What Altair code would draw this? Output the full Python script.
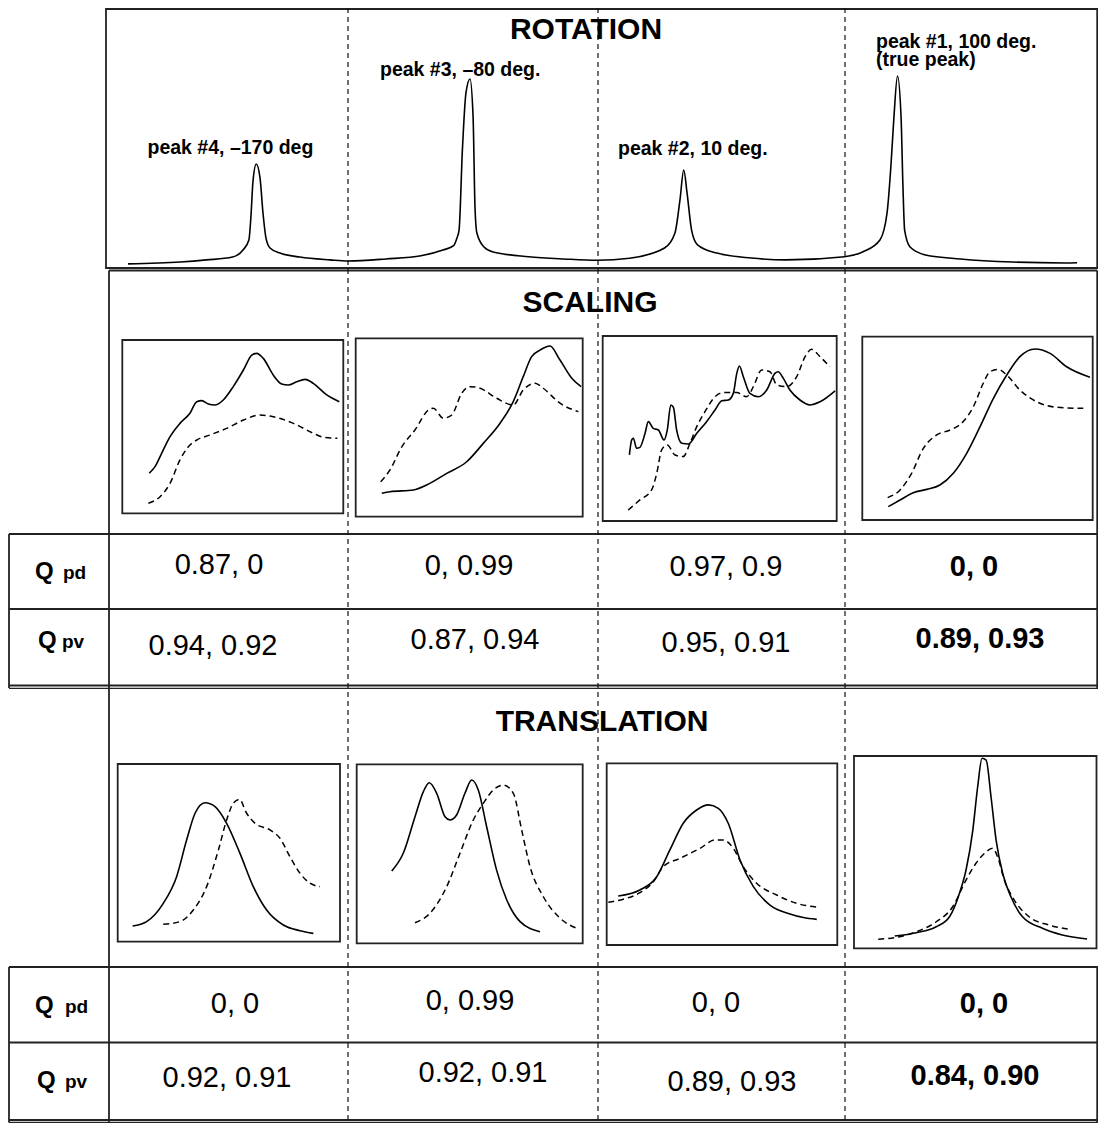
import altair as alt
import pandas as pd

# ---------------- data ----------------
# Rotation response (angle in degrees, normalised amplitude)
rot_angle = [-224, -202, -191, -180, -175.6, -173.1, -172.2, -171.4, -170, -168.4, -167.2, -165.9,
             -164.2, -160, -151.6, -139, -131.4, -115.4, -100.6, -91.4, -86.9, -85.5, -84.6, -83.2,
             -81.7, -80, -78.7, -77.9, -77.1, -74.1, -70.3, -55.3, -40.4, -26.3, -12.8, 1.9, 6.3, 8.4,
             10, 11.4, 13.3, 15.8, 23.9, 38.5, 53.1, 77.7, 85.5, 92.6, 95.6, 97.2, 98.5, 100, 101.5,
             102.3, 103, 105.3, 111.8, 126.5, 148.5, 170.5, 175.6]
rot_amp = [0.011, 0.021, 0.032, 0.047, 0.084, 0.137, 0.268, 0.442, 0.537, 0.463, 0.284, 0.147,
           0.095, 0.068, 0.047, 0.032, 0.026, 0.037, 0.054, 0.084, 0.107, 0.147, 0.189, 0.611,
           0.911, 0.984, 0.784, 0.311, 0.174, 0.100, 0.074, 0.049, 0.037, 0.030, 0.041, 0.095,
           0.174, 0.347, 0.505, 0.384, 0.189, 0.111, 0.068, 0.042, 0.032, 0.049, 0.075, 0.137,
           0.279, 0.521, 0.784, 1.0, 0.784, 0.416, 0.189, 0.100, 0.058, 0.037, 0.021, 0.016, 0.017]

# Small panels: (x %, y %) inside each panel
S1_solid = [(12.2,23.1),(14.8,26.9),(17.8,34.6),(21.6,44.2),(26.1,51.9),(30.6,57.7),(33.7,64.4),(35.9,65.0),
            (38.9,63.1),(41.9,62.5),(45.7,65.4),(50.2,73.1),(54.8,82.7),(58.6,91.3),(60.8,92.3),(63.8,89.4),
            (68.3,79.8),(72.1,74.6),(75.1,74.0),(78.9,75.9),(82.7,77.3),(86.4,75.0),(92.5,68.3),(98.2,64.4)]
S1_dashed = [(11.8,5.8),(17.1,9.6),(21.6,17.3),(26.1,30.8),(29.9,38.4),(33.7,42.3),(39.7,45.2),(47.2,49.0),
             (54.8,53.8),(62.3,56.7),(68.3,55.7),(77.4,51.9),(86.4,46.2),(91.0,43.9),(97.3,43.3)]
S2_solid = [(11.5,13.1),(15.1,14.0),(25.4,15.0),(31.3,17.8),(40.1,24.3),(48.9,30.8),(56.2,41.1),(63.6,52.4),
            (69.4,64.5),(73.8,78.5),(77.5,89.7),(81.2,93.4),(85.6,95.7),(90.0,87.8),(95.2,77.6),(99.3,72.9)]
S2_dashed = [(11.0,19.6),(15.1,26.2),(20.3,39.2),(26.1,48.6),(32.0,59.8),(34.2,60.8),(38.6,55.2),(42.3,57.0),
             (46.7,69.2),(50.4,72.9),(54.8,72.0),(62.1,66.4),(69.4,62.6),(73.8,71.0),(79.0,74.8),(82.6,72.0),
             (90.0,63.6),(98.1,58.9)]
S3_solid = [(11.4,35.7),(12.4,43.8),(13.1,44.7),(14.5,39.3),(15.9,39.8),(18.1,47.4),(19.5,53.7),(21.6,50.1),
            (23.8,49.2),(26.2,43.8),(27.6,49.2),(29.1,62.7),(30.2,61.5),(31.6,49.2),(33.8,42.0),(36.6,41.6),
            (40.2,47.4),(44.4,53.7),(48.0,60.0),(50.9,65.0),(53.7,65.4),(55.8,69.0),(57.3,79.8),(58.4,83.8),
            (60.1,78.0),(62.9,69.0),(66.5,67.2),(70.1,70.8),(73.6,79.8),(75.0,80.7),(77.2,77.1),(80.0,70.8),
            (84.3,65.4),(88.6,62.7),(92.9,64.5),(99.3,70.4)]
S3_dashed = [(10.9,5.9),(15.9,11.4),(20.9,16.8),(23.1,25.8),(25.2,38.4),(27.6,41.1),(30.9,35.7),(34.4,34.8),
             (37.3,42.0),(40.2,51.0),(43.7,59.1),(48.0,67.2),(51.5,69.4),(57.3,69.4),(61.5,67.2),(64.4,72.6),
             (67.9,81.6),(71.5,80.7),(74.4,73.5),(78.6,72.6),(82.9,78.0),(86.5,88.8),(89.3,92.8),(92.9,88.8),
             (97.1,83.4)]
S4_solid = [(11.3,7.3),(16.4,10.9),(22.1,14.9),(28.0,16.7),(33.7,19.1),(39.5,25.5),(45.3,36.4),(51.1,50.9),
            (56.9,66.4),(62.7,79.1),(68.4,89.1),(75.0,93.3),(81.5,90.9),(88.7,83.6),(98.8,77.9)]
S4_dashed = [(11.0,12.2),(16.4,16.4),(21.4,25.5),(26.5,39.1),(32.3,46.4),(38.1,49.1),(43.1,52.8),(48.2,61.8),
             (52.5,74.6),(55.4,80.9),(59.0,82.2),(62.7,79.1),(68.4,70.9),(75.7,64.5),(84.4,61.5),(95.9,60.9)]
T1_solid = [(6.7,8.8),(13.0,11.3),(20.5,21.6),(26.5,36.6),(31.0,57.2),(34.8,72.3),(39.3,78.2),(43.8,76.0),
            (49.0,66.6),(55.0,49.7),(61.0,31.0),(67.0,17.8),(74.5,9.4),(82.0,6.2),(88.0,4.7)]
T1_dashed = [(20.5,9.8),(28.0,11.3),(34.0,17.8),(40.0,31.0),(45.3,51.6),(49.0,68.5),(52.0,77.9),(54.7,80.1),
             (58.0,72.3),(61.8,66.6),(68.5,62.9),(73.0,58.2),(77.5,47.8),(82.0,38.5),(86.5,32.9),(91.0,31.0)]
T2_solid = [(15.5,40.4),(20.6,50.3),(25.8,70.7),(29.5,84.7),(32.1,89.7),(35.4,83.8),(39.1,70.7),(41.3,68.9),
            (44.2,71.7),(47.9,83.8),(50.9,91.2),(53.8,85.6),(57.5,65.1),(61.9,40.9),(66.4,24.2),(72.3,12.1),
            (81.1,6.5)]
T2_dashed = [(25.8,11.5),(32.4,16.8),(39.8,31.6),(45.7,50.3),(51.6,68.9),(56.0,78.2),(60.4,85.6),(64.9,88.4),
             (69.3,83.8),(73.0,63.3),(76.7,42.8),(82.6,26.0),(90.0,14.0),(97.3,8.4)]
T3_solid = [(5.0,27.0),(14.4,30.3),(21.7,37.6),(27.4,52.3),(33.2,67.0),(39.0,74.3),(44.1,77.1),(48.4,75.2),
            (52.7,67.0),(57.8,46.8),(63.6,32.1),(70.8,22.0),(79.5,17.1),(85.3,15.1),(91.1,14.1)]
T3_dashed = [(0.7,23.5),(7.2,25.2),(14.4,28.8),(20.2,34.8),(24.5,43.1),(31.8,47.7),(40.5,53.2),(47.0,57.8),
             (50.6,57.8),(54.9,53.2),(59.2,43.1),(65.0,34.0),(73.7,27.5),(82.4,22.9),(92.5,20.7)]
T4_solid = [(16.8,6.4),(25.7,8.1),(33.9,11.2),(39.4,16.4),(43.5,28.6),(46.2,40.7),(49.0,61.5),(51.0,84.0),
            (52.8,98.8),(54.5,97.9),(56.5,78.8),(58.6,56.3),(61.3,39.0),(64.7,26.8),(69.5,16.4),(77.7,10.4),
            (85.9,6.9),(96.1,4.8)]
T4_dashed = [(10.0,4.7),(17.5,5.7),(25.7,8.6),(33.9,13.8),(40.7,21.6),(46.2,35.5),(50.3,44.2),(53.8,49.4),
             (57.2,52.0),(59.2,47.6),(62.0,35.5),(66.1,25.1),(72.2,16.4),(80.4,12.1),(88.6,9.9)]

section_titles = ["ROTATION", "SCALING", "TRANSLATION"]
peak_labels = ["peak #4, \u2013170 deg", "peak #3, \u201380 deg.", "peak #2, 10 deg.",
               "peak #1, 100 deg.\n(true peak)"]
scaling_qpd = ["0.87, 0", "0, 0.99", "0.97, 0.9", "0, 0"]
scaling_qpv = ["0.94, 0.92", "0.87, 0.94", "0.95, 0.91", "0.89, 0.93"]
translation_qpd = ["0, 0", "0, 0.99", "0, 0", "0, 0"]
translation_qpv = ["0.92, 0.91", "0.92, 0.91", "0.89, 0.93", "0.84, 0.90"]

# ---------------- layout (figure coordinates, page pixels) ----------------
XMIN, XMAX, YMIN, YMAX = 8, 1098, 8, 1123
RIGHT = 1097.2   # right-most drawable border

panel_boxes = {
    "S1": (122.3, 340, 343.3, 513.3), "S2": (355.7, 338.3, 582.7, 516.7),
    "S3": (602.7, 336, 836.7, 521),   "S4": (862.3, 336.7, 1092.7, 520),
    "T1": (117.7, 764, 340, 941.7),   "T2": (356.7, 764.3, 582.7, 943.3),
    "T3": (606.7, 763.3, 837.3, 945), "T4": (854, 756, 1096.5, 948.3),
}
panel_curves = {
    "S1": (S1_solid, S1_dashed), "S2": (S2_solid, S2_dashed),
    "S3": (S3_solid, S3_dashed), "S4": (S4_solid, S4_dashed),
    "T1": (T1_solid, T1_dashed), "T2": (T2_solid, T2_dashed),
    "T3": (T3_solid, T3_dashed), "T4": (T4_solid, T4_dashed),
}

def rot_x(a):
    return 470 + (a + 80) * 2.375

def rot_y(v):
    return 266 - v * 190

solid_rows, dashed_rows = [], []
rot_df = pd.DataFrame({"a": rot_angle, "v": rot_amp})
for i, r in rot_df.iterrows():
    solid_rows.append({"x": rot_x(r.a), "y": rot_y(r.v), "i": i, "c": "rot"})
for name, (sol, das) in panel_curves.items():
    l, t, rr, b = panel_boxes[name]
    for rows, pts, tag in ((solid_rows, sol, "s"), (dashed_rows, das, "d")):
        for i, (px, py) in enumerate(pts):
            rows.append({"x": l + px / 100 * (rr - l), "y": b - py / 100 * (b - t), "i": i, "c": name + tag})
solid_df = pd.DataFrame(solid_rows)
dashed_df = pd.DataFrame(dashed_rows)

rect_df = pd.DataFrame(
    [{"x": l, "y": t, "x2": r, "y2": b} for (l, t, r, b) in panel_boxes.values()]
    + [{"x": 106, "y": 9, "x2": RIGHT, "y2": 268}]
)

thick = [
    (109, 270.5, RIGHT, 270.5), (RIGHT, 270.5, RIGHT, 534), (109, 270.5, 109, 1123),
    (9, 534, XMAX, 534), (9, 609, XMAX, 609), (9, 685.5, XMAX, 685.5),
    (9, 534, 9, 688), (RIGHT, 534, RIGHT, 688),
    (9, 967, XMAX, 967), (9, 1042.5, XMAX, 1042.5), (9, 1120, XMAX, 1120),
    (9, 967, 9, 1122.5), (RIGHT, 967, RIGHT, 1122.5),
]
thin = [(9, 688.3, XMAX, 688.3), (9, 1122.3, XMAX, 1122.3)]
dashed_v = [(348, YMIN, 348, YMAX), (598, YMIN, 598, YMAX), (845, YMIN, 845, YMAX)]

def seg_df(segs):
    return pd.DataFrame([{"x": a, "y": b, "x2": c, "y2": d} for a, b, c, d in segs])

title_df = pd.DataFrame({"t": section_titles, "x": [586, 590, 602], "y": [39, 312, 731]})
peak_df = pd.DataFrame({"t": peak_labels, "x": [147.5, 380, 618, 876], "y": [154, 76, 155, 48]})

q_df = pd.DataFrame({"t": ["Q", "Q", "Q", "Q"], "x": [35, 38, 35, 37], "y": [579, 648, 1013, 1088]})
sub_df = pd.DataFrame({"t": ["pd", "pv", "pd", "pv"], "x": [63, 62, 65, 65], "y": [579, 648, 1013, 1088]})

val_x = [[219, 469, 726, 974], [213, 475, 726, 980], [235, 470, 716, 984], [227, 483, 732, 975]]
val_y = [[574, 575, 576, 576], [655, 649, 652, 648], [1013, 1010, 1012, 1013], [1087, 1082, 1091, 1085]]
reg_rows, bold_rows = [], []
for ri, vals in enumerate([scaling_qpd, scaling_qpv, translation_qpd, translation_qpv]):
    for ci, v in enumerate(vals):
        row = {"t": v, "x": val_x[ri][ci], "y": val_y[ri][ci]}
        (bold_rows if ci == 3 else reg_rows).append(row)
reg_df = pd.DataFrame(reg_rows)
bold_df = pd.DataFrame(bold_rows)

# ---------------- chart ----------------
xs = alt.Scale(domain=[XMIN, XMAX], nice=False, zero=False)
ys = alt.Scale(domain=[YMIN, YMAX], nice=False, zero=False, reverse=True)
X = alt.X("x:Q", scale=xs, axis=None)
Y = alt.Y("y:Q", scale=ys, axis=None)
FONT = "Liberation Sans"

rects = alt.Chart(rect_df).mark_rect(fill="white", fillOpacity=0, stroke="#222", strokeWidth=1.8).encode(
    x=X, y=Y, x2="x2:Q", y2="y2:Q")
rules_thick = alt.Chart(seg_df(thick)).mark_rule(color="#222", strokeWidth=1.8).encode(
    x=X, y=Y, x2="x2:Q", y2="y2:Q")
rules_thin = alt.Chart(seg_df(thin)).mark_rule(color="#222", strokeWidth=1.2).encode(
    x=X, y=Y, x2="x2:Q", y2="y2:Q")
rules_dash = alt.Chart(seg_df(dashed_v)).mark_rule(color="#111", strokeWidth=1.2, strokeDash=[5, 4]).encode(
    x=X, y=Y, x2="x2:Q", y2="y2:Q")

lines_solid = alt.Chart(solid_df).mark_line(color="black", strokeWidth=1.6, interpolate="monotone").encode(
    x=X, y=Y, detail="c:N", order="i:Q")
lines_dashed = alt.Chart(dashed_df).mark_line(color="black", strokeWidth=1.5, interpolate="monotone",
                                              strokeDash=[6, 4]).encode(
    x=X, y=Y, detail="c:N", order="i:Q")

def text_layer(df, size, weight, align, **kw):
    return alt.Chart(df).mark_text(font=FONT, fontSize=size, fontWeight=weight, align=align,
                                   baseline="alphabetic", color="black", **kw).encode(x=X, y=Y, text="t:N")

chart = alt.layer(
    rects, rules_thick, rules_thin, rules_dash, lines_solid, lines_dashed,
    text_layer(title_df, 30, "bold", "center"),
    text_layer(peak_df, 19.5, "bold", "left", lineBreak="\n", lineHeight=18),
    text_layer(q_df, 24, "bold", "left"),
    text_layer(sub_df, 19, "bold", "left"),
    text_layer(reg_df, 29, "normal", "center"),
    text_layer(bold_df, 29, "bold", "center"),
).properties(
    width=XMAX - XMIN, height=YMAX - YMIN, padding=0,
    autosize=alt.AutoSizeParams(type="none"),
).configure_view(stroke=None)

chart.save("out.html", embed_options={"renderer": "svg", "actions": False})
